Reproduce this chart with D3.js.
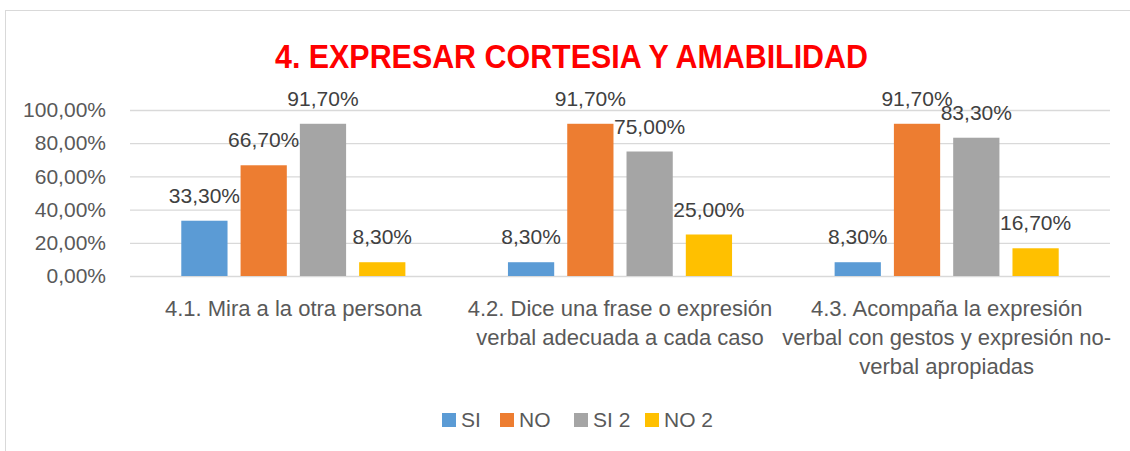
<!DOCTYPE html>
<html>
<head>
<meta charset="utf-8">
<script src="https://cdn.jsdelivr.net/npm/d3@7"></script>
<style>
  body { margin: 0; background: #fff; }
  text { font-family: "Liberation Sans", Arial, sans-serif; }
</style>
</head>
<body>
<svg id="chart" width="1130" height="451"></svg>
<script>
// data
var categories = ["4.1", "4.2", "4.3"];
var categoryLines = [
    ["4.1. Mira a la otra persona"],
    ["4.2. Dice una frase o expresión", "verbal adecuada a cada caso"],
    ["4.3. Acompaña la expresión", "verbal con gestos y expresión no-", "verbal apropiadas"]
];
var seriesNames = ["SI", "NO", "SI 2", "NO 2"];
var si   = [0.333, 0.083, 0.083];
var no   = [0.667, 0.917, 0.917];
var si2  = [0.917, 0.750, 0.833];
var no2  = [0.083, 0.250, 0.167];
var yTicks = [0, 0.2, 0.4, 0.6, 0.8, 1.0];
var colors = ["#5b9bd5", "#ed7d31", "#a5a5a5", "#ffc000"];

var seriesValues = [si, no, si2, no2];

var svg = d3.select("#chart");

var locale = d3.formatLocale({decimal: ",", thousands: ".", grouping: [3], currency: ["", " €"]});
var pct = locale.format(".2%");

// chart frame (right and bottom edges fall outside the picture)
svg.append("rect")
    .attr("x", 5.5).attr("y", 10.5)
    .attr("width", 1150).attr("height", 470)
    .attr("fill", "#fff")
    .attr("stroke", "#d9d9d9")
    .attr("stroke-width", 1);

svg.append("text")
    .attr("x", 571.5)
    .attr("y", 68)
    .attr("text-anchor", "middle")
    .attr("font-size", 33)
    .attr("font-weight", "bold")
    .attr("fill", "#ff0000")
    .attr("textLength", 593)
    .attr("lengthAdjust", "spacingAndGlyphs")
    .text("4. EXPRESAR CORTESIA Y AMABILIDAD");

var x0 = d3.scaleBand()
    .domain(categories)
    .range([130, 1110])
    .paddingInner(0.314)
    .paddingOuter(0.157);

var x1 = d3.scaleBand()
    .domain(seriesNames)
    .range([0, x0.bandwidth()])
    .paddingInner(0.22);

var y = d3.scaleLinear()
    .domain([0, 1])
    .range([276, 110]);

// gridlines + y labels
var yAxis = d3.axisLeft(y)
    .tickValues(yTicks)
    .tickSize(-(1110 - 130))
    .tickPadding(24)
    .tickFormat(pct);

var gy = svg.append("g")
    .attr("transform", "translate(130,0)")
    .call(yAxis);
gy.select(".domain").remove();
gy.selectAll(".tick line")
    .attr("stroke", "#d9d9d9")
    .attr("stroke-width", 1.3);
gy.selectAll(".tick text")
    .attr("fill", "#595959")
    .attr("font-size", 21)
    .attr("font-family", "Liberation Sans, Arial, sans-serif");

// bars
var groups = svg.append("g").selectAll(".grp")
    .data(categories)
    .enter()
    .append("g")
    .attr("class", "grp")
    .attr("transform", d => "translate(" + x0(d) + ",0)");

groups.each(function(cat, ci) {
    var g = d3.select(this);
    seriesNames.forEach((s, si_) => {
        var v = seriesValues[si_][ci];
        g.append("rect")
            .attr("x", x1(s))
            .attr("y", y(v))
            .attr("width", x1.bandwidth())
            .attr("height", y(0) - y(v))
            .attr("fill", colors[si_]);
    });
});

// value labels, drawn after bars so they sit on top
groups.each(function(cat, ci) {
    var g = d3.select(this);
    seriesNames.forEach((s, si_) => {
        var v = seriesValues[si_][ci];
        g.append("text")
            .attr("x", x1(s) + x1.bandwidth() / 2)
            .attr("y", y(v) - 18)
            .attr("text-anchor", "middle")
            .attr("font-size", 21)
            .attr("fill", "#404040")
            .text(pct(v));
    });
});

// category labels
categoryLines.forEach((lines, i) => {
    var t = svg.append("text")
        .attr("text-anchor", "middle")
        .attr("font-size", 22)
        .attr("fill", "#595959");
    lines.forEach((ln, j) => {
        t.append("tspan")
            .attr("x", x0(categories[i]) + x0.bandwidth() / 2)
            .attr("y", 316 + j * 29)
            .text(ln);
    });
});

// legend
var legendX = [442, 500, 574, 645];
var legend = svg.append("g");
seriesNames.forEach((s, i) => {
    legend.append("rect")
        .attr("x", legendX[i])
        .attr("y", 413)
        .attr("width", 14)
        .attr("height", 14)
        .attr("fill", colors[i]);
    legend.append("text")
        .attr("x", legendX[i] + 19)
        .attr("y", 427)
        .attr("font-size", 21)
        .attr("fill", "#595959")
        .text(s);
});
</script>
</body>
</html>
